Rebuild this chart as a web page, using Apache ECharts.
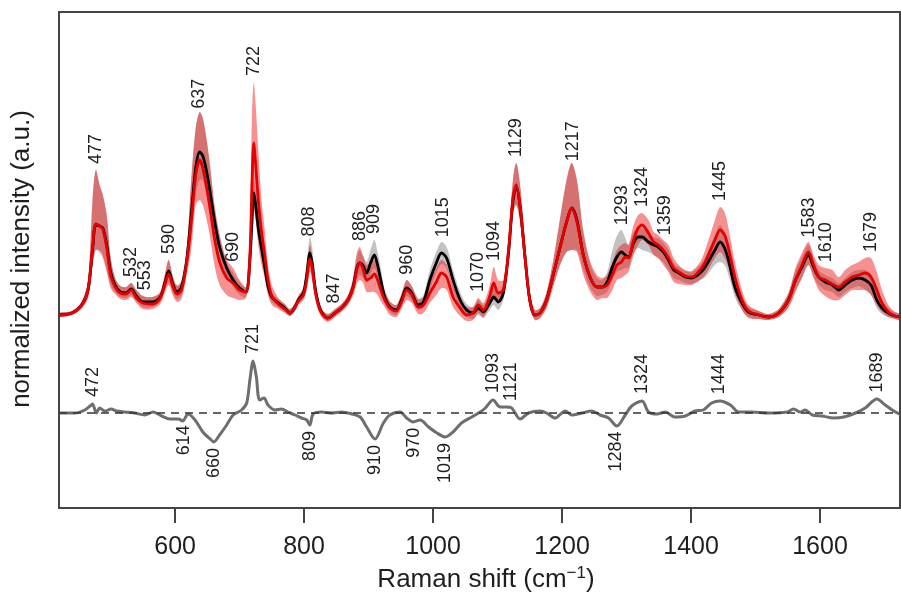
<!DOCTYPE html>
<html>
<head>
<meta charset="utf-8">
<script src="https://cdn.jsdelivr.net/npm/echarts@6/dist/echarts.min.js"></script>
<style>
  html, body { margin: 0; padding: 0; background: #fff; }
  #chart { width: 901px; height: 597px; }
</style>
</head>
<body>
<div id="chart"></div>
<script>
// Raman shift grid (cm^-1) shared by the mean spectra and their spread bands
const wavenumber = [
  420,440,455,465,472,477,483,488,494,500,
  507,515,524,532,540,550,565,577,584,590,
  597,603,610,618,625,632,638,643,649,655,
  661,669,680,690,700,710,716,719,722,725,
  729,734,739,744,750,760,770,778,786,791,
  799,804,809,813,817,822,828,837,848,858,
  868,876,881,886,891,897,903,909,914,918,
  925,933,943,951,959,967,977,985,995,1005,
  1013,1021,1031,1042,1052,1062,1070,1078,1088,1094,
  1101,1109,1117,1124,1129,1135,1143,1150,1158,1166,
  1176,1187,1197,1207,1215,1223,1233,1244,1254,1262,
  1270,1278,1285,1292,1298,1303,1311,1318,1324,1334,
  1342,1349,1357,1365,1373,1381,1391,1401,1414,1422,
  1437,1445,1452,1458,1468,1479,1489,1505,1520,1536,
  1551,1562,1572,1582,1590,1598,1608,1619,1629,1639,
  1650,1660,1670,1679,1688,1696,1706,1716,1724
];

// mean spectrum, group 1 (black)
const meanBlack = [
  98,100,108,123,163,188,187,185,168,141,
  128,121,120,124,117,111,111,116,130,142,
  128,121,126,153,198,245,261,257,241,218,
  193,166,145,133,125,121,153,188,220,208,
  185,165,146,127,116,110,105,100,106,113,
  120,138,160,148,126,110,100,95,100,105,
  113,126,143,150,148,140,150,158,148,136,
  116,106,103,113,125,120,108,111,133,150,
  160,155,133,113,103,100,105,101,110,116,
  111,120,160,213,226,206,153,113,98,100,
  113,140,166,191,205,193,158,135,126,126,
  131,146,156,161,158,156,170,176,176,171,
  168,166,161,153,143,140,136,135,140,146,
  163,171,165,153,126,110,101,98,96,100,
  113,133,146,158,146,136,131,128,123,128,
  133,135,133,128,113,105,100,97,96
];

// mean spectrum, group 2 (red)
const meanRed = [
  98,100,108,123,165,189,187,184,165,138,
  126,120,119,123,115,110,109,115,128,139,
  126,119,123,151,191,238,253,245,225,201,
  175,151,135,130,123,121,158,223,270,248,
  213,181,158,133,117,109,104,100,106,112,
  118,133,154,143,123,108,99,95,100,105,
  113,125,141,150,145,133,135,139,133,125,
  113,105,102,111,123,118,106,108,120,131,
  140,136,116,105,98,100,108,103,117,130,
  120,123,163,216,228,206,153,113,98,100,
  113,140,166,191,205,191,158,135,126,126,
  128,138,148,151,156,155,173,185,188,180,
  171,168,163,155,145,141,137,136,143,151,
  173,183,178,165,136,113,102,98,96,100,
  113,133,148,161,148,136,133,129,126,131,
  136,138,140,136,123,110,101,97,96
];

// spread of group 1 (grey band)
const greyHi = [
  100,102,111,133,213,243,228,218,198,158,
  135,127,126,130,123,117,116,121,138,153,
  136,128,133,163,233,285,301,295,273,243,
  208,178,151,140,131,126,163,208,233,223,
  198,175,155,135,121,114,109,104,110,117,
  125,148,176,163,135,115,104,99,104,109,
  117,133,153,163,158,151,163,173,161,148,
  123,111,108,119,133,127,114,118,143,161,
  171,166,143,121,109,106,113,108,118,125,
  120,128,173,233,250,228,168,121,103,105,
  121,155,195,233,250,233,183,148,135,133,
  141,163,177,183,175,168,181,185,185,180,
  176,175,170,163,150,146,142,141,148,156,
  178,188,181,168,138,117,106,102,99,104,
  120,143,156,168,155,143,138,135,130,135,
  141,143,143,138,123,113,105,101,99
];
const greyLo = [
  96,98,105,115,148,163,163,158,143,128,
  121,116,115,118,112,106,106,111,123,131,
  120,114,118,143,173,218,233,233,218,198,
  175,153,138,126,118,116,145,173,208,193,
  173,155,138,120,111,106,101,97,102,109,
  115,128,148,136,118,105,97,92,97,102,
  109,120,133,138,136,130,138,145,135,125,
  110,101,98,107,117,113,103,105,123,141,
  149,145,123,105,97,94,98,95,103,108,
  103,113,151,201,208,191,141,105,93,95,
  105,128,148,161,163,163,143,125,117,118,
  121,133,141,143,145,145,160,165,163,161,
  158,155,151,143,135,133,130,129,133,136,
  148,151,148,138,116,103,96,94,93,96,
  106,123,135,148,136,128,123,121,116,121,
  125,127,123,118,105,99,96,94,93
];

// spread of group 2 (red band)
const redHi = [
  100,102,111,133,213,243,228,218,198,155,
  135,127,126,130,123,117,116,121,138,153,
  135,127,131,163,233,285,301,295,273,243,
  208,178,153,145,133,126,193,293,331,308,
  263,213,183,148,128,115,109,104,110,117,
  125,145,168,155,133,113,103,99,104,109,
  118,135,158,166,158,148,151,153,147,138,
  123,112,108,119,133,127,114,116,131,145,
  153,148,128,113,106,106,115,110,128,146,
  133,133,175,235,250,228,168,121,103,105,
  121,155,195,233,250,233,181,151,138,135,
  138,151,163,168,170,168,188,198,200,193,
  181,178,173,168,155,148,143,142,151,163,
  193,206,201,185,151,123,108,102,99,104,
  120,145,160,171,158,148,145,143,136,143,
  148,151,155,155,141,123,108,101,99
];
const redLo = [
  96,98,104,115,148,163,161,155,141,125,
  119,114,113,116,110,104,104,109,120,128,
  117,111,114,138,163,208,213,208,193,173,
  148,128,118,115,113,115,148,178,203,193,
  168,148,135,118,108,104,100,97,102,108,
  113,123,141,131,115,103,95,91,96,101,
  108,117,128,133,131,121,121,121,118,113,
  106,98,96,104,113,110,99,100,110,118,
  125,123,106,97,92,93,100,96,108,113,
  111,115,151,201,208,191,141,105,93,95,
  105,128,148,161,163,161,138,121,113,115,
  115,123,133,135,138,141,158,168,173,168,
  158,155,148,141,131,129,128,128,133,138,
  155,161,155,145,120,103,95,94,93,96,
  105,121,135,148,135,123,117,113,113,118,
  123,123,123,118,108,101,96,94,93
];

// difference spectrum (group 2 minus group 1)
const diffWavenumber = [
  420,444,460,470,472,478,483,491,501,509,
  522,537,553,566,579,592,605,612,620,631,
  643,656,660,669,680,690,703,711,716,721,
  726,731,738,744,755,765,775,786,796,804,
  809,814,827,843,858,874,887,897,910,923,
  933,949,959,969,980,993,1006,1019,1031,1044,
  1060,1073,1081,1093,1104,1114,1122,1135,1148,1166,
  1176,1189,1205,1215,1231,1246,1259,1272,1285,1298,
  1308,1324,1334,1347,1360,1375,1391,1406,1419,1432,
  1445,1461,1474,1494,1520,1549,1559,1569,1577,1588,
  1603,1621,1637,1655,1670,1688,1701,1717,1724
];
const diffValue = [
  0,0,3,8,9,0,5,2,4,2,
  1,0,-2,1,-3,-6,-6,-8,-1,-7,
  -19,-27,-29,-22,-12,-2,3,10,33,52,
  36,13,15,8,3,4,1,-2,-5,-7,
  -12,-1,1,0,1,-1,-4,-14,-26,-10,
  -2,1,-5,-9,-7,-14,-20,-24,-19,-10,
  -4,1,5,13,6,6,5,-6,0,2,
  0,-5,2,-2,0,2,-2,-5,-13,-2,
  7,12,1,-1,1,-4,-3,2,3,10,
  12,8,1,1,0,1,4,1,3,-2,
  -3,-5,-4,0,5,14,8,1,-1
];

// annotated band positions
const peakLabels = [477,532,553,590,637,690,722,808,847,886,909,960,1015,1070,1094,1129,1217,1293,1324,1359,1445,1583,1610,1679];
const diffPeakLabels = [472,721,1093,1121,1324,1444,1689];
const diffDipLabels = [614,660,809,910,970,1019,1284];

// x-axis ticks
const xTicks = [600, 800, 1000, 1200, 1400, 1600];

const FONT = '"Liberation Sans", Arial, Helvetica, sans-serif';

function interp(xs, ys, x) {
  if (x <= xs[0]) return ys[0];
  for (let i = 1; i < xs.length; i++) {
    if (x <= xs[i]) {
      const t = (x - xs[i - 1]) / (xs[i] - xs[i - 1]);
      return ys[i - 1] + t * (ys[i] - ys[i - 1]);
    }
  }
  return ys[ys.length - 1];
}

function bandSeries(name, hi, lo, fill, z) {
  return {
    type: 'custom',
    name: name,
    z: z,
    silent: true,
    clip: true,
    data: [[wavenumber[0], lo[0]]],
    renderItem: function (params, api) {
      const top = wavenumber.map((w, i) => api.coord([w, hi[i]]));
      const bottom = wavenumber.map((w, i) => api.coord([w, lo[i]])).reverse();
      return {
        type: 'polygon',
        shape: { points: top.concat(bottom), smooth: 0.3 },
        style: { fill: fill }
      };
    }
  };
}

function labelSeries(items, align) {
  return {
    type: 'custom',
    z: 10,
    silent: true,
    data: items,
    renderItem: function (params, api) {
      const p = api.coord([api.value(0), api.value(1)]);
      return {
        type: 'text',
        x: p[0],
        y: p[1],
        rotation: Math.PI / 2,
        style: {
          text: String(api.value(0)),
          align: align,
          verticalAlign: 'middle',
          fontSize: 18,
          fontFamily: FONT,
          fill: '#1e1e1e'
        }
      };
    }
  };
}

const upperItems = peakLabels.map(w => [
  w,
  Math.max(interp(wavenumber, greyHi, w), interp(wavenumber, redHi, w)) + 6
]);
const diffUpItems = diffPeakLabels.map(w => [w, interp(diffWavenumber, diffValue, w) + 7]);
const diffDownItems = diffDipLabels.map(w => [w, interp(diffWavenumber, diffValue, w) - 6]);

const chart = echarts.init(document.getElementById('chart'));

chart.setOption({
  animation: false,
  backgroundColor: '#ffffff',
  grid: {
    left: 59, right: 1, top: 12, bottom: 89,
    show: true, borderColor: '#444', borderWidth: 2
  },
  xAxis: {
    type: 'value',
    min: 420, max: 1724,
    axisLine: { show: true, onZero: false, lineStyle: { color: '#444', width: 2 } },
    axisTick: { show: true, length: 15, customValues: xTicks, lineStyle: { color: '#444', width: 2 } },
    axisLabel: {
      customValues: xTicks, fontSize: 25, color: '#1e1e1e', margin: 27, fontFamily: FONT,
      formatter: v => String(v)
    },
    splitLine: { show: false }
  },
  yAxis: {
    type: 'value',
    min: -95, max: 401,
    axisLine: { show: false },
    axisTick: { show: false },
    axisLabel: { show: false },
    splitLine: { show: false }
  },
  graphic: [
    {
      type: 'text', x: 486, y: 580,
      style: {
        text: '{n|Raman shift (cm}{s|−1}{n|)}',
        align: 'center', verticalAlign: 'middle',
        rich: {
          n: { fontSize: 26, fontFamily: FONT, fill: '#1e1e1e', lineHeight: 30 },
          s: { fontSize: 17, fontFamily: FONT, fill: '#1e1e1e', verticalAlign: 'top', lineHeight: 30 }
        }
      }
    },
    {
      type: 'text', x: 22, y: 259, rotation: Math.PI / 2,
      style: {
        text: 'normalized intensity (a.u.)',
        align: 'center', verticalAlign: 'middle',
        fontSize: 26, fontFamily: FONT, fill: '#1e1e1e'
      }
    }
  ],
  series: [
    bandSeries('group 1 spread', greyHi, greyLo, 'rgba(110,110,110,0.42)', 1),
    bandSeries('group 2 spread', redHi, redLo, 'rgba(235,25,25,0.48)', 2),
    {
      type: 'line', name: 'group 1', z: 3,
      data: wavenumber.map((w, i) => [w, meanBlack[i]]),
      showSymbol: false, smooth: 0.3,
      lineStyle: { color: '#000000', width: 2.8 }
    },
    {
      type: 'line', name: 'group 2', z: 4,
      data: wavenumber.map((w, i) => [w, meanRed[i]]),
      showSymbol: false, smooth: 0.3,
      lineStyle: { color: '#e60000', width: 2.8 }
    },
    {
      type: 'line', name: 'difference', z: 4,
      data: diffWavenumber.map((w, i) => [w, diffValue[i]]),
      showSymbol: false, smooth: 0.3,
      lineStyle: { color: '#6e6e6e', width: 3 },
      markLine: {
        silent: true,
        symbol: ['none', 'none'],
        label: { show: false },
        lineStyle: { color: '#333', width: 1.5, type: [8, 6] },
        data: [{ yAxis: 0 }]
      }
    },
    labelSeries(upperItems, 'left'),
    labelSeries(diffUpItems, 'left'),
    labelSeries(diffDownItems, 'right')
  ]
});
</script>
</body>
</html>
